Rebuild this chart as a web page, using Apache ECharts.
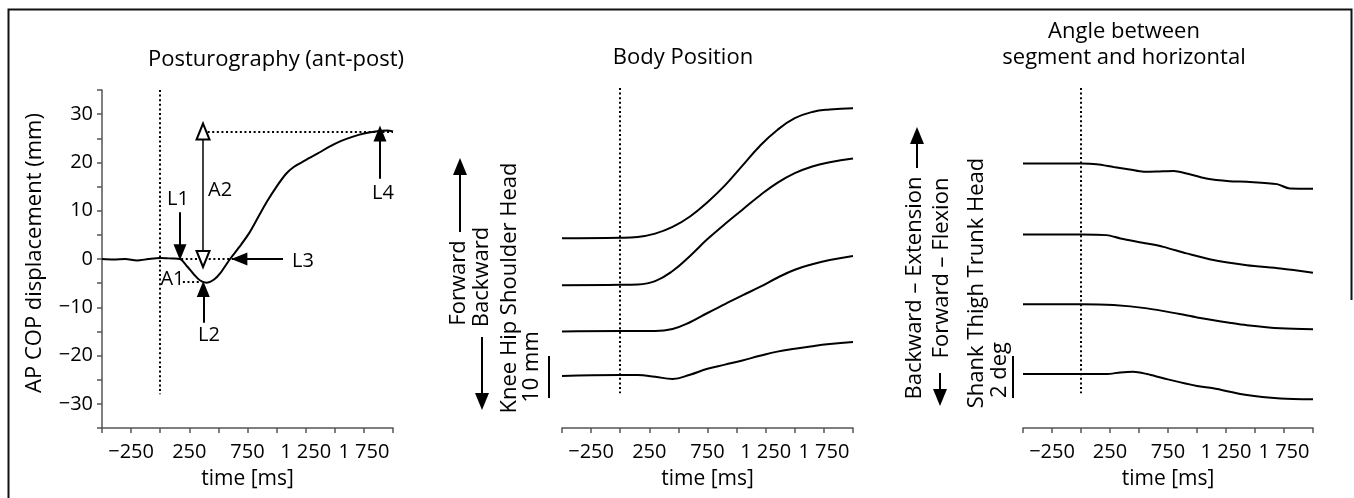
<!DOCTYPE html>
<html><head><meta charset="utf-8">
<script src="https://cdn.jsdelivr.net/npm/echarts@6/dist/echarts.min.js"></script>
<style>html,body{margin:0;padding:0;background:#fff}#c{width:1354px;height:498px}</style>
</head><body><div id="c"></div>
<script>
// ---------- DATA ----------
// Panel 1: Posturography, AP COP displacement (mm) vs time (ms)
const copTime = [-500,-400,-300,-200,-100,0,100,170,230,290,340,400,460,520,600,680,760,840,920,1000,1080,1150,1250,1350,1450,1550,1650,1750,1850,1950,2000];
const copMm   = [0,-0.1,0,-0.3,0,0.2,0.1,0,-1.5,-3.2,-4.4,-4.9,-4.3,-2.8,0,2.5,5.2,8.6,12,15,17.6,19.1,20.5,21.8,23.2,24.4,25.3,26,26.4,26.6,26.4];

// Panel 2: Body position (mm, stacked traces), common sampling times
const bodyTime     = [-500,0,150,300,450,600,750,900,1050,1200,1350,1500,1650,1800,2000];
const headPosMm     = [45.2,45.3,45.5,46.3,47.9,50.4,53.8,57.8,62.5,67.2,71.0,73.8,75.3,75.9,76.2];
const shoulderPosMm = [34.0,34.1,34.2,35.0,37.4,41.0,45.0,48.6,52.0,55.4,58.4,60.7,62.3,63.3,64.2];
const hipPosMm      = [23.0,23.1,23.1,23.1,23.6,25.2,27.4,29.5,31.6,33.6,35.8,37.7,39.0,40.0,41.0];
const kneePosMm     = [12.4,12.6,12.6,12.2,11.7,12.7,14.1,15.1,16.1,17.2,18.2,18.9,19.5,20.0,20.5];

// Panel 3: Angle between segment and horizontal (deg, stacked traces)
const headAngTime = [-500,0,135,280,420,540,650,800,910,1080,1280,1430,1690,1800,2000];
const headAngDeg  = [12.6,12.6,12.57,12.44,12.32,12.21,12.22,12.25,12.13,11.89,11.76,11.73,11.62,11.41,11.40];
const trunkAngTime = [-500,0,220,340,570,710,910,1140,1430,1720,2000];
const trunkAngDeg  = [9.22,9.22,9.19,9.03,8.79,8.63,8.32,8.0,7.76,7.60,7.40];
const thighAngTime = [-500,0,280,570,850,1000,1280,1430,1720,2000];
const thighAngDeg  = [5.90,5.90,5.86,5.70,5.43,5.27,5.02,4.90,4.75,4.71];
const shankAngTime = [-500,0,220,340,450,570,710,1000,1140,1430,1720,2000];
const shankAngDeg  = [2.57,2.57,2.57,2.65,2.68,2.57,2.37,2.0,1.89,1.57,1.41,1.37];

// Axis ticks / labels
const timeMin = -500, timeMax = 2000, timeStep = 250;
const timeLabels = [-250, 250, 750, 1250, 1750];
const copMin = -35, copMax = 35, copStep = 5;
const copLabels = [-30,-20,-10,0,10,20,30];
const scaleBarMm = 10;   // "10 mm"
const scaleBarDeg = 2;   // "2 deg"

// Annotations on panel 1 (text, time, mm)
const annText = ['L1','A1','A2','L2','L3','L4'];
const annTime = [153, 105, 514, 419, 1227, 1914];
const annMm   = [12.3, -4.2, 14.3, -15.9, -0.4, 13.7];

// ---------- CHART ----------
const FONT = "'Open Sans', 'Noto Sans', sans-serif";
const TXT = '#000';
const pairs = (t, v) => t.map((x, i) => [x, v[i]]);
const fmtNum = v => (v < 0 ? '\u2212' : '') + String(Math.abs(v)).replace(/\B(?=(\d{3})+(?!\d))/g, ' ');
const DOT = { color: '#000', width: 2, type: [2, 2.6] };
const ARROW = { color: '#000', width: 2, type: 'solid' };
const TRI = [13, 16];

function xAxisCfg(gi) {
  return {
    type: 'value', gridIndex: gi, min: timeMin, max: timeMax, interval: timeStep,
    name: 'time [ms]', nameLocation: 'middle', nameGap: 41,
    nameTextStyle: { fontFamily: FONT, fontSize: 21, color: TXT },
    axisLine: { onZero: false, lineStyle: { color: '#555', width: 1.5 } },
    axisTick: { length: 5, lineStyle: { color: '#555', width: 1.5 } },
    splitLine: { show: false },
    axisLabel: {
      margin: 14, fontFamily: FONT, fontSize: 20, color: TXT,
      formatter: v => timeLabels.indexOf(v) >= 0 ? fmtNum(v) : ''
    }
  };
}
function lineSeries(name, gi, t, v, extra) {
  return Object.assign({
    name, type: 'line', xAxisIndex: gi, yAxisIndex: gi, data: pairs(t, v),
    showSymbol: false, symbol: 'none', smooth: 0.3, silent: true,
    lineStyle: { color: '#000', width: 2 }
  }, extra || {});
}
function vDotted(top, bottom) {
  return { silent: true, symbol: 'none', label: { show: false }, lineStyle: DOT, animation: false,
    data: [[{ coord: [0, top] }, { coord: [0, bottom] }]] };
}
function arrowItem(from, to, sym) {
  return [{ coord: from, symbol: 'none', lineStyle: ARROW }, { coord: to, symbol: sym || 'triangle', symbolSize: TRI }];
}

const chart = echarts.init(document.getElementById('c'), null, { renderer: 'canvas' });

const titleStyle = { fontFamily: FONT, fontSize: 22, fontWeight: 'normal', color: TXT };
const option = {
  animation: false,
  backgroundColor: '#fff',
  title: [
    { text: 'Posturography (ant-post)', left: 276, top: 49, textAlign: 'center', padding: 0, textStyle: titleStyle },
    { text: 'Body Position', left: 683, top: 47, textAlign: 'center', padding: 0, textStyle: titleStyle },
    { text: 'Angle between\nsegment and horizontal', left: 1124, top: 19, textAlign: 'center', padding: 0,
      textStyle: Object.assign({ lineHeight: 26 }, titleStyle) }
  ],
  grid: [
    { left: 102, top: 90, width: 291, height: 338 },
    { left: 562, top: 88, width: 291, height: 340 },
    { left: 1023, top: 88, width: 290, height: 340 }
  ],
  xAxis: [xAxisCfg(0), xAxisCfg(1), xAxisCfg(2)],
  yAxis: [
    { type: 'value', gridIndex: 0, min: copMin, max: copMax, interval: copStep,
      axisLine: { show: true, onZero: false, lineStyle: { color: '#555', width: 1.5 } },
      axisTick: { show: true, length: 5, lineStyle: { color: '#555', width: 1.5 } },
      splitLine: { show: false },
      axisLabel: { margin: 9, fontFamily: FONT, fontSize: 20, color: TXT,
        formatter: v => copLabels.indexOf(v) >= 0 ? fmtNum(v) : '' } },
    { type: 'value', gridIndex: 1, min: 0, max: 81, show: false },
    { type: 'value', gridIndex: 2, min: 0, max: 16.2, show: false }
  ],
  series: [
    lineSeries('COP', 0, copTime, copMm, {
      markLine: {
        silent: true, animation: false, label: { show: false },
        symbol: 'none', lineStyle: DOT,
        data: [
          [{ coord: [0, 35] }, { coord: [0, -28] }],
          [{ coord: [180, 0] }, { coord: [680, 0] }],
          [{ coord: [368, 26.4] }, { coord: [2000, 26.4] }],
          [{ coord: [195, -4.8] }, { coord: [355, -4.8] }],
          arrowItem([170, 9.7], [170, 1.4]),
          arrowItem([370, -13.2], [370, -6.2]),
          arrowItem([1055, 0], [680, 0]),
          arrowItem([1888, 16.6], [1888, 26.0]),
          [{ coord: [368, 0], symbol: 'emptyTriangle', symbolSize: TRI, lineStyle: { color: '#000', width: 1.5, type: 'solid' } },
           { coord: [368, 26.4], symbol: 'emptyTriangle', symbolSize: TRI }]
        ]
      }
    }),
    { type: 'scatter', xAxisIndex: 0, yAxisIndex: 0, silent: true, symbolSize: 1,
      itemStyle: { color: 'rgba(255,255,255,0)', opacity: 1 },
      data: annText.map((s, i) => [annTime[i], annMm[i], s]),
      label: { show: true, position: 'inside', formatter: p => p.value[2],
        fontFamily: FONT, fontSize: 20, color: TXT, opacity: 1, textBorderWidth: 0 } },

    lineSeries('Head', 1, bodyTime, headPosMm, { smooth: 0.45, markLine: vDotted(81, 8.3) }),
    lineSeries('Shoulder', 1, bodyTime, shoulderPosMm, { smooth: 0.45 }),
    lineSeries('Hip', 1, bodyTime, hipPosMm, { smooth: 0.45 }),
    lineSeries('Knee', 1, bodyTime, kneePosMm, { smooth: 0.45 }),

    lineSeries('Head', 2, headAngTime, headAngDeg, { markLine: vDotted(16.2, 1.65) }),
    lineSeries('Trunk', 2, trunkAngTime, trunkAngDeg),
    lineSeries('Thigh', 2, thighAngTime, thighAngDeg),
    lineSeries('Shank', 2, shankAngTime, shankAngDeg)
  ]
};
chart.setOption(option);

// ---------- decorations: rotated labels, direction arrows, scale bars, frame ----------
function rText(x, y, text, size) {
  return { type: 'text', x, y, rotation: Math.PI / 2, silent: true,
    style: { text, x: 0, y: 0, align: 'center', verticalAlign: 'middle',
      font: (size || 22) + 'px ' + FONT, fill: TXT } };
}
function vLine(x, y1, y2, w) {
  return { type: 'line', silent: true, shape: { x1: x, y1, x2: x, y2 }, style: { stroke: '#000', lineWidth: w || 2 } };
}
function tri(x, tipY, baseY, halfW) {
  return { type: 'polygon', silent: true, shape: { points: [[x, tipY], [x - halfW, baseY], [x + halfW, baseY]] }, style: { fill: '#000' } };
}
const p0 = chart.convertToPixel({ gridIndex: 1 }, [0, 0])[1];
const p10 = chart.convertToPixel({ gridIndex: 1 }, [0, scaleBarMm])[1];
const q0 = chart.convertToPixel({ gridIndex: 2 }, [0, 0])[1];
const q2 = chart.convertToPixel({ gridIndex: 2 }, [0, scaleBarDeg])[1];
const barBottom = 398;

chart.setOption({
  graphic: [
    { type: 'polyline', silent: true, shape: { points: [[8.5, 520], [8.5, 9.5], [1351.5, 9.5], [1351.5, 300]] },
      style: { stroke: '#111', lineWidth: 2, fill: null } },
    rText(35, 253, 'AP COP displacement (mm)', 22),

    // Body position labels
    rText(459, 283, 'Forward'),
    vLine(460, 232, 172), tri(460, 158, 175, 7),
    rText(482, 277, 'Backward'),
    vLine(482, 337, 396), tri(482, 410, 393, 7),
    rText(510, 288, 'Knee Hip Shoulder Head'),
    rText(532, 367, scaleBarMm + ' mm'),
    vLine(549, barBottom - Math.abs(p0 - p10), barBottom, 2),

    // Angle labels
    rText(915, 288, 'Backward \u2013 Extension'),
    vLine(917, 168, 140), tri(917, 127, 144, 7),
    rText(942, 268, 'Forward \u2013 Flexion'),
    vLine(940, 373, 392), tri(940, 406, 389, 7),
    rText(977, 283, 'Shank Thigh Trunk Head'),
    rText(1000, 370, scaleBarDeg + ' deg'),
    vLine(1013, barBottom - Math.abs(q0 - q2), barBottom, 2)
  ]
});
</script>
</body></html>
